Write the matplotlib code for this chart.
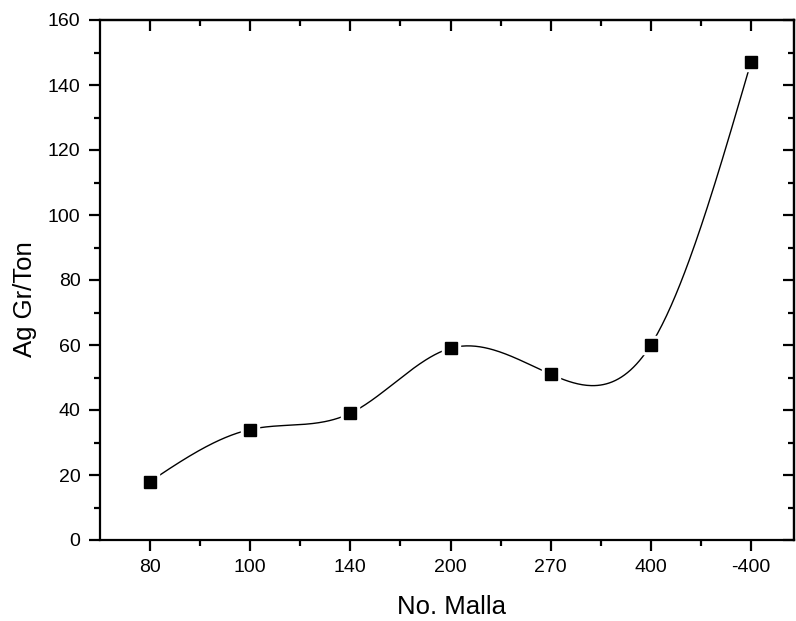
import numpy as np
import matplotlib
matplotlib.use("Agg")
import matplotlib.pyplot as plt
from matplotlib.ticker import MultipleLocator, FixedLocator

# data
mallas = ["80", "100", "140", "200", "270", "400", "-400"]
ag_gr_ton = [18, 34, 39, 59, 51, 60, 147]


def natural_spline(x, y, n=400):
    """Natural cubic spline through the points (Origin-style smooth line)."""
    x = np.asarray(x, float)
    y = np.asarray(y, float)
    h = np.diff(x)
    m = len(x)
    A = np.zeros((m, m))
    b = np.zeros(m)
    A[0, 0] = A[-1, -1] = 1.0
    for i in range(1, m - 1):
        A[i, i - 1] = h[i - 1]
        A[i, i] = 2 * (h[i - 1] + h[i])
        A[i, i + 1] = h[i]
        b[i] = 3 * ((y[i + 1] - y[i]) / h[i] - (y[i] - y[i - 1]) / h[i - 1])
    c = np.linalg.solve(A, b)
    xs = np.linspace(x[0], x[-1], n)
    idx = np.clip(np.searchsorted(x, xs) - 1, 0, m - 2)
    dx = xs - x[idx]
    bb = (y[idx + 1] - y[idx]) / h[idx] - h[idx] * (2 * c[idx] + c[idx + 1]) / 3
    dd = (c[idx + 1] - c[idx]) / (3 * h[idx])
    ys = y[idx] + bb * dx + c[idx] * dx ** 2 + dd * dx ** 3
    return xs, ys


plt.rcParams["font.family"] = ["Liberation Sans", "DejaVu Sans"]

fig = plt.figure(figsize=(7.96, 6.21), dpi=100)
ax = fig.add_axes([100 / 796, 1 - 540 / 621, 694 / 796, 520 / 621])

pos = np.arange(len(mallas))
xs, ys = natural_spline(pos, ag_gr_ton)
ax.plot(xs, ys, color="black", linewidth=1.0, zorder=2)
# white halo around markers leaves the small gap seen in the original
ax.plot(pos, ag_gr_ton, linestyle="none", marker="s", markersize=13,
        color="white", zorder=3)
ax.plot(pos, ag_gr_ton, linestyle="none", marker="s", markersize=8,
        color="black", zorder=4)

ax.set_xlim(-0.5, 6.43)
ax.set_ylim(0, 160)
ax.set_xticks(pos)
ax.set_xticklabels(mallas)
ax.xaxis.set_minor_locator(FixedLocator(pos[:-1] + 0.5))
ax.yaxis.set_major_locator(MultipleLocator(20))
ax.yaxis.set_minor_locator(MultipleLocator(10))

for s in ax.spines.values():
    s.set_linewidth(1.6)

ax.tick_params(which="major", direction="out", length=8, width=1.6,
               labelsize=14, pad=6)
ax.tick_params(which="minor", direction="out", length=4, width=1.6)
# top / right axes mirrored with inward ticks
sec_x = ax.secondary_xaxis("top")
sec_x.set_xticks(pos)
sec_x.set_xticklabels([])
sec_x.xaxis.set_minor_locator(FixedLocator(pos[:-1] + 0.5))
sec_x.tick_params(which="major", direction="in", length=8, width=1.6)
sec_x.tick_params(which="minor", direction="in", length=4, width=1.6)
sec_x.spines["top"].set_linewidth(1.6)
sec_y = ax.secondary_yaxis("right")
sec_y.yaxis.set_major_locator(MultipleLocator(20))
sec_y.yaxis.set_minor_locator(MultipleLocator(10))
sec_y.set_yticklabels([])
sec_y.tick_params(which="major", direction="in", length=8, width=1.6)
sec_y.tick_params(which="minor", direction="in", length=4, width=1.6)
sec_y.spines["right"].set_linewidth(1.6)

ax.set_xlabel("No. Malla", fontsize=18.5)
ax.set_ylabel("Ag Gr/Ton", fontsize=18.5)
# label placement as in the original (slightly off-centre)
ax.xaxis.set_label_coords(0.507, -0.105)
ax.yaxis.set_label_coords(-0.091, 0.463)

fig.savefig("out.png", dpi=100)
